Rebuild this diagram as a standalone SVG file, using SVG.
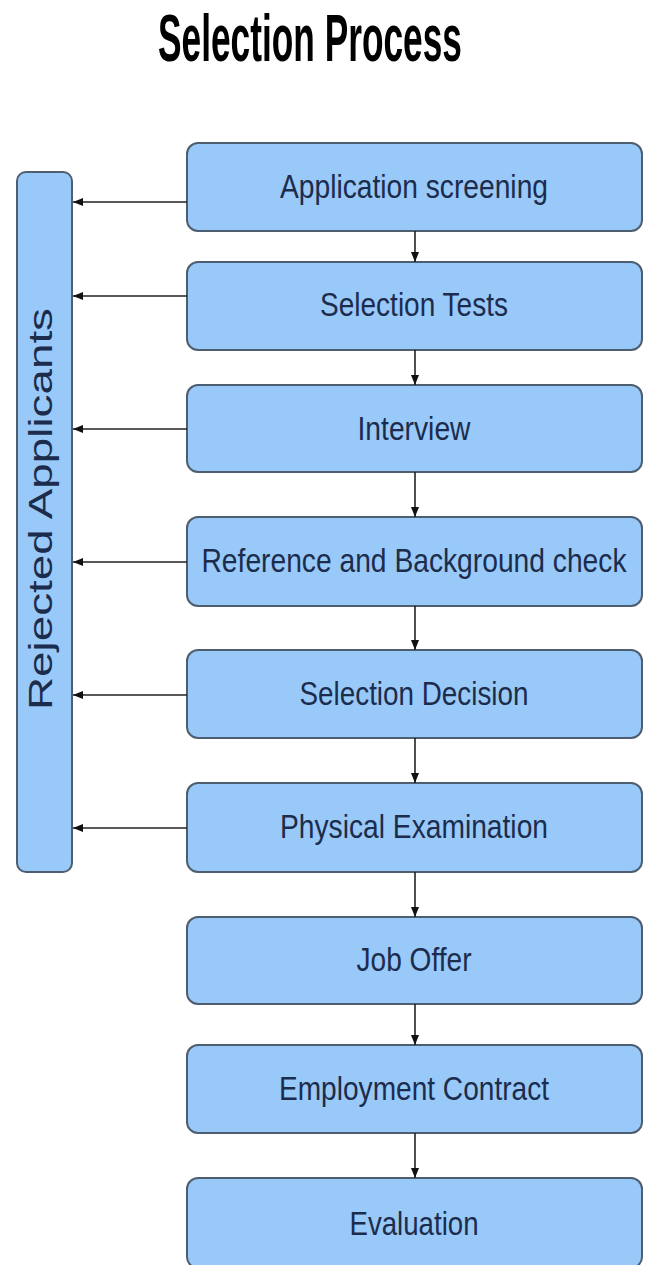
<svg xmlns="http://www.w3.org/2000/svg" width="649" height="1265" viewBox="0 0 649 1265">
<style>
.box{fill:#99c9f8;stroke:#4d5e70;stroke-width:2}
.lbl{font-family:"Liberation Sans Narrow","Liberation Sans",Arial,sans-serif;font-size:34px;fill:#1c2c4c;text-anchor:middle}
.title{font-family:"Liberation Sans Narrow","Liberation Sans",Arial,sans-serif;font-size:66px;font-weight:bold;fill:#000;text-anchor:middle}
.con{stroke:#222;stroke-width:1.6;fill:none;marker-end:url(#ah)}
</style>
<defs>
<marker id="ah" markerUnits="userSpaceOnUse" markerWidth="10" markerHeight="8" refX="10" refY="4" orient="auto">
<path d="M0,0 L10,4 L0,8 z" fill="#111"/>
</marker>
</defs>
<rect width="649" height="1265" fill="#fff"/>
<text class="title" x="310" y="61" textLength="304" lengthAdjust="spacingAndGlyphs">Selection Process</text>
<g id="rejected">
<rect class="box" x="17" y="172" width="55" height="700" rx="9"/>
<text class="lbl" transform="translate(52,509) rotate(-90)" x="0" y="0" textLength="402" lengthAdjust="spacingAndGlyphs" style="font-family:'Liberation Sans',Arial,sans-serif">Rejected Applicants</text>
</g>
<g id="n1"><rect class="box" x="187" y="143" width="455" height="88" rx="11"/><text class="lbl" x="414" y="198" textLength="268" lengthAdjust="spacingAndGlyphs">Application screening</text></g>
<g id="n2"><rect class="box" x="187" y="262" width="455" height="88" rx="11"/><text class="lbl" x="414" y="316" textLength="188" lengthAdjust="spacingAndGlyphs">Selection Tests</text></g>
<g id="n3"><rect class="box" x="187" y="385" width="455" height="87" rx="11"/><text class="lbl" x="414" y="440" textLength="113" lengthAdjust="spacingAndGlyphs">Interview</text></g>
<g id="n4"><rect class="box" x="187" y="517" width="455" height="89" rx="11"/><text class="lbl" x="414" y="572" textLength="425" lengthAdjust="spacingAndGlyphs">Reference and Background check</text></g>
<g id="n5"><rect class="box" x="187" y="650" width="455" height="88" rx="11"/><text class="lbl" x="414" y="705" textLength="229" lengthAdjust="spacingAndGlyphs">Selection Decision</text></g>
<g id="n6"><rect class="box" x="187" y="783" width="455" height="89" rx="11"/><text class="lbl" x="414" y="838" textLength="268" lengthAdjust="spacingAndGlyphs">Physical Examination</text></g>
<g id="n7"><rect class="box" x="187" y="917" width="455" height="87" rx="11"/><text class="lbl" x="414" y="971" textLength="115" lengthAdjust="spacingAndGlyphs">Job Offer</text></g>
<g id="n8"><rect class="box" x="187" y="1045" width="455" height="88" rx="11"/><text class="lbl" x="414" y="1100" textLength="270" lengthAdjust="spacingAndGlyphs">Employment Contract</text></g>
<g id="n9"><rect class="box" x="187" y="1178" width="455" height="90" rx="11"/><text class="lbl" x="414" y="1235" textLength="129" lengthAdjust="spacingAndGlyphs">Evaluation</text></g>
<g id="connectors">
<line class="con" x1="187" y1="202" x2="73" y2="202"/>
<line class="con" x1="187" y1="296" x2="73" y2="296"/>
<line class="con" x1="187" y1="429" x2="73" y2="429"/>
<line class="con" x1="187" y1="562" x2="73" y2="562"/>
<line class="con" x1="187" y1="695" x2="73" y2="695"/>
<line class="con" x1="187" y1="828" x2="73" y2="828"/>
<line class="con" x1="415" y1="231" x2="415" y2="262"/>
<line class="con" x1="415" y1="350" x2="415" y2="385"/>
<line class="con" x1="415" y1="472" x2="415" y2="517"/>
<line class="con" x1="415" y1="606" x2="415" y2="650"/>
<line class="con" x1="415" y1="738" x2="415" y2="783"/>
<line class="con" x1="415" y1="872" x2="415" y2="917"/>
<line class="con" x1="415" y1="1004" x2="415" y2="1045"/>
<line class="con" x1="415" y1="1133" x2="415" y2="1178"/>
</g>
</svg>
